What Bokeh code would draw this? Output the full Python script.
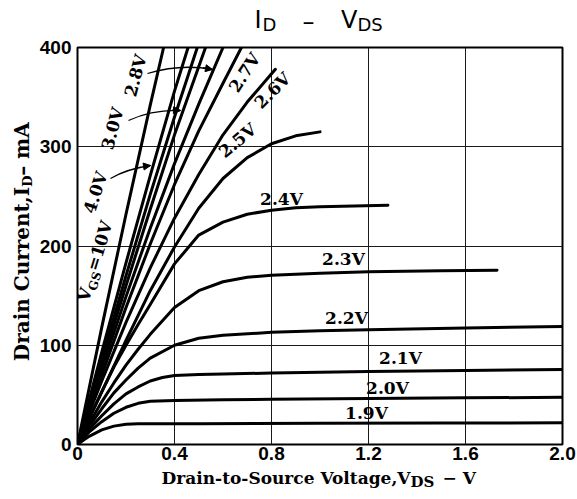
import math
from bokeh.plotting import figure
from bokeh.layouts import column, row
from bokeh.models import Label, FixedTicker, Range1d, Arrow, NormalHead, CustomJSTickFormatter
from bokeh.embed import file_html
from bokeh.resources import INLINE

# ---------------- data ----------------
x_ticks = [0, 0.4, 0.8, 1.2, 1.6, 2.0]
y_ticks = [0, 100, 200, 300, 400]

vds_10v = [0, 0.1, 0.2, 0.3, 0.355]
id_10v = [0, 118, 232, 342, 400]
vds_4v0 = [0, 0.1, 0.2, 0.3, 0.4, 0.456]
id_4v0 = [0, 93, 183, 271, 356, 400]
vds_3v0 = [0, 0.1, 0.2, 0.3, 0.4, 0.494]
id_3v0 = [0, 86, 170, 252, 330, 400]
vds_unl = [0, 0.1, 0.2, 0.3, 0.4, 0.528]
id_unl = [0, 81, 160, 237, 312, 400]
vds_2v8 = [0, 0.1, 0.2, 0.3, 0.4, 0.5, 0.6]
id_2v8 = [0, 76, 149, 218, 283, 343, 400]
vds_2v7 = [0, 0.1, 0.2, 0.3, 0.4, 0.5, 0.6, 0.676]
id_2v7 = [0, 70, 138, 202, 262, 316, 364, 400]
vds_2v6 = [0, 0.05, 0.1, 0.2, 0.3, 0.4, 0.5, 0.6, 0.7, 0.816]
id_2v6 = [0, 33, 64, 123, 178, 228, 272, 312, 345, 378]
vds_2v5 = [0, 0.05, 0.1, 0.2, 0.3, 0.4, 0.5, 0.6, 0.7, 0.8, 0.9, 1.0]
id_2v5 = [0, 27, 53, 105, 155, 199, 238, 268, 289, 303, 311, 315]
vds_2v4 = [0, 0.05, 0.1, 0.15, 0.2, 0.25, 0.3, 0.4, 0.5, 0.6, 0.7, 0.8, 0.9, 1.0, 1.28]
id_2v4 = [0, 27, 53, 78, 100, 121, 141, 182, 211, 224, 232, 236, 238.5, 239.5, 241]
vds_2v3 = [0, 0.05, 0.1, 0.15, 0.2, 0.25, 0.3, 0.4, 0.5, 0.6, 0.7, 0.8, 1.0, 1.2, 1.5, 1.73]
id_2v3 = [0, 22, 43, 62, 80, 96, 111, 138, 155, 164, 168.5, 170.5, 172.5, 174, 175, 175.5]
vds_2v2 = [0, 0.05, 0.1, 0.15, 0.2, 0.25, 0.3, 0.4, 0.5, 0.6, 0.8, 1.0, 1.2, 1.6, 2.0]
id_2v2 = [0, 19, 36, 52, 65, 77, 87, 100, 107, 110, 113, 114.5, 115.5, 117.5, 119]
vds_2v1 = [0, 0.05, 0.1, 0.15, 0.2, 0.25, 0.3, 0.35, 0.4, 0.5, 0.6, 0.8, 1.2, 1.6, 2.0]
id_2v1 = [0, 16, 29, 41, 51, 58, 64, 67.5, 69.5, 70.5, 71, 72, 73.5, 74.5, 75.5]
vds_2v0 = [0, 0.05, 0.1, 0.15, 0.2, 0.25, 0.3, 0.4, 0.6, 0.8, 1.2, 1.6, 2.0]
id_2v0 = [0, 13, 23, 31.5, 37.5, 41.5, 43.5, 44.3, 45, 45.5, 46.3, 47, 47.5]
vds_1v9 = [0, 0.025, 0.05, 0.1, 0.15, 0.2, 0.25, 0.5, 1.0, 1.5, 2.0]
id_1v9 = [0, 4.5, 8.5, 14.7, 18.5, 20.3, 20.8, 21, 21.3, 21.6, 21.8]

curves = [
    (vds_10v, id_10v), (vds_4v0, id_4v0), (vds_3v0, id_3v0), (vds_unl, id_unl),
    (vds_2v8, id_2v8), (vds_2v7, id_2v7), (vds_2v6, id_2v6), (vds_2v5, id_2v5),
    (vds_2v4, id_2v4), (vds_2v3, id_2v3), (vds_2v2, id_2v2), (vds_2v1, id_2v1),
    (vds_2v0, id_2v0), (vds_1v9, id_1v9),
]

# ---------------- layout (window pixels) ----------------
W, H = 577, 499
FL, FR, FT, FB = 77, 562, 47, 444      # plot frame edges
TOP_H = 35                              # title strip
LEFT_W = 35                             # y-title strip
BOT_Y = 468                             # x-title strip starts here
XMAX, YMAX = 2.0, 400.0
MID = 0.35                              # baseline -> text middle, in font sizes

SERIF = "DejaVu Serif"
SANS = "DejaVu Sans"


def d(px, py):
    """window pixel position -> data position of the main plot"""
    return ((px - FL) / (FR - FL) * XMAX, (FB - py) / (FB - FT) * YMAX)


def strip(w, h, y_top):
    f = figure(width=w, height=h, x_range=Range1d(0, w), y_range=Range1d(y_top + h, y_top),
               toolbar_location=None, output_backend="svg", x_axis_type=None, y_axis_type=None,
               title_location=None, min_border=0, min_border_left=0, min_border_right=0,
               min_border_top=0, min_border_bottom=0)
    f.outline_line_color = None
    f.background_fill_color = "white"
    f.border_fill_color = "white"
    f.grid.visible = False
    return f


def put(fig, x, y, text, size, angle=0.0, align="center", font=SERIF, style="normal"):
    fig.add_layout(Label(x=x, y=y, text=text, angle=math.radians(angle), text_align=align,
                         text_baseline="middle", text_font=font, text_font_size=f"{size}px",
                         text_font_style=style, text_color="black"))


# main plot
p = figure(width=W - LEFT_W, height=BOT_Y - TOP_H, x_range=Range1d(0, XMAX),
           y_range=Range1d(0, YMAX), toolbar_location=None, output_backend="svg",
           title_location=None,
           min_border_left=FL - LEFT_W, min_border_right=W - FR,
           min_border_top=FT - TOP_H, min_border_bottom=BOT_Y - FB)
p.background_fill_color = "white"
p.border_fill_color = "white"
p.outline_line_color = "black"
p.outline_line_width = 2

for ax in (p.xaxis[0], p.yaxis[0]):
    ax.axis_label = None
    ax.axis_label_standoff = 0
    ax.axis_line_color = None
    ax.major_tick_line_color = None
    ax.minor_tick_line_color = None
    ax.major_tick_out = 0
    ax.major_tick_in = 0
    ax.minor_tick_out = 0
    ax.minor_tick_in = 0
    ax.major_label_text_font = "Liberation Sans"
    ax.major_label_text_font_style = "bold"
    ax.major_label_text_font_size = "19px"
    ax.major_label_text_color = "black"
p.xaxis.ticker = FixedTicker(ticks=x_ticks)
p.yaxis.ticker = FixedTicker(ticks=y_ticks)
p.xaxis.formatter = CustomJSTickFormatter(code="return tick == 0 ? '0' : tick.toFixed(1);")
p.xaxis.major_label_standoff = 2
p.yaxis.major_label_standoff = 6

p.xgrid.ticker = FixedTicker(ticks=x_ticks[1:-1])
p.ygrid.ticker = FixedTicker(ticks=y_ticks[1:-1])
for g in (p.xgrid[0], p.ygrid[0]):
    g.grid_line_color = "#1a1a1a"
    g.grid_line_width = 1
    g.grid_line_alpha = 1.0

for vx, iy in curves:
    p.line(vx, iy, line_color="black", line_width=3, line_join="round", line_cap="round")


def lab(px, py, text, size, angle=0.0, align="center", style="bold"):
    x, y = d(px, py)
    put(p, x, y, text, size, angle, align, SERIF, style)


# curve labels (centres)
lab(281, 198, "2.4V", 17)
lab(343, 258, "2.3V", 17)
lab(346, 317, "2.2V", 17)
lab(400, 357, "2.1V", 17)
lab(387, 387, "2.0V", 17)
lab(366, 412, "1.9V", 17)
lab(237, 140, "2.5V", 17, angle=40)
lab(272, 90, "2.6V", 17, angle=45)
lab(244, 72, "2.7V", 17, angle=57)
lab(135, 75, "2.8V", 17, angle=75)
lab(112, 128, "3.0V", 17, angle=75)
lab(95, 192, "4.0V", 17, angle=72)

# VGS = 10V (rotated, with subscript); positions are text middles
th = math.radians(73)
ux, uy = math.cos(th), -math.sin(th)       # along the text, screen pixels
dx, dy = math.sin(th), math.cos(th)        # towards the baseline side, screen pixels
Ax, Ay = 86.0, 288.0
lab(Ax, Ay, "V", 17, angle=73, align="right")
lab(Ax + 6 * dx, Ay + 6 * dy, "GS", 12, angle=73, align="left")
lab(Ax + 19 * ux, Ay + 19 * uy, "=10V", 17, angle=73, align="left")


# arrows for 2.8V, 3.0V, 4.0V
def arrow(p0, p1, p2):
    (x0, y0), (x1, y1), (x2, y2) = d(*p0), d(*p1), d(*p2)
    cx, cy = 2 * x1 - (x0 + x2) / 2, 2 * y1 - (y0 + y2) / 2
    p.quadratic(x0=x0, y0=y0, x1=x2, y1=y2, cx=cx, cy=cy, line_color="black", line_width=1.3)
    sx, sy = 0.7 * x2 + 0.3 * cx, 0.7 * y2 + 0.3 * cy
    p.add_layout(Arrow(x_start=sx, y_start=sy, x_end=x2, y_end=y2, line_width=1.3,
                       end=NormalHead(size=7, fill_color="black", line_color="black")))


arrow((147, 73), (180, 67), (212, 69))
arrow((128, 120), (153, 112), (180, 110))
arrow((110, 178), (128, 170), (150, 165))

# title strip: I_D - V_DS  (y values are text middles)
t = strip(W, TOP_H, 0)
put(t, 261, 28 - MID * 24, "I", 24, align="right", font=SANS)
put(t, 262, 24, "D", 18, align="left", font=SANS)
put(t, 308, 21, "\u2013", 24, align="center", font=SANS)
put(t, 357, 28 - MID * 24, "V", 24, align="right", font=SANS)
put(t, 357, 24, "DS", 18, align="left", font=SANS)

# y-title strip (rotated; x values are text middles)
lft = strip(LEFT_W, BOT_Y - TOP_H, TOP_H)
put(lft, 28 - MID * 20, 187, "Drain Current,I", 20, angle=90, align="right", style="bold")
put(lft, 31.5 - MID * 14, 187, "D", 13, angle=90, align="left", style="bold")
put(lft, 28 - MID * 20, 175, " \u2013 mA", 20, angle=90, align="left", style="bold")

# x-title strip
bot = strip(W, H - BOT_Y, BOT_Y)
put(bot, 410, 483 - MID * 17, "Drain-to-Source Voltage,V", 17, align="right", style="bold")
put(bot, 410, 487 - MID * 15, "DS", 15, align="left", style="bold")
put(bot, 442, 483 - MID * 17, "\u2212 V", 17, align="left", style="bold")

layout = column(t, row(lft, p), bot)
open("out.html", "w").write(file_html(layout, INLINE))
